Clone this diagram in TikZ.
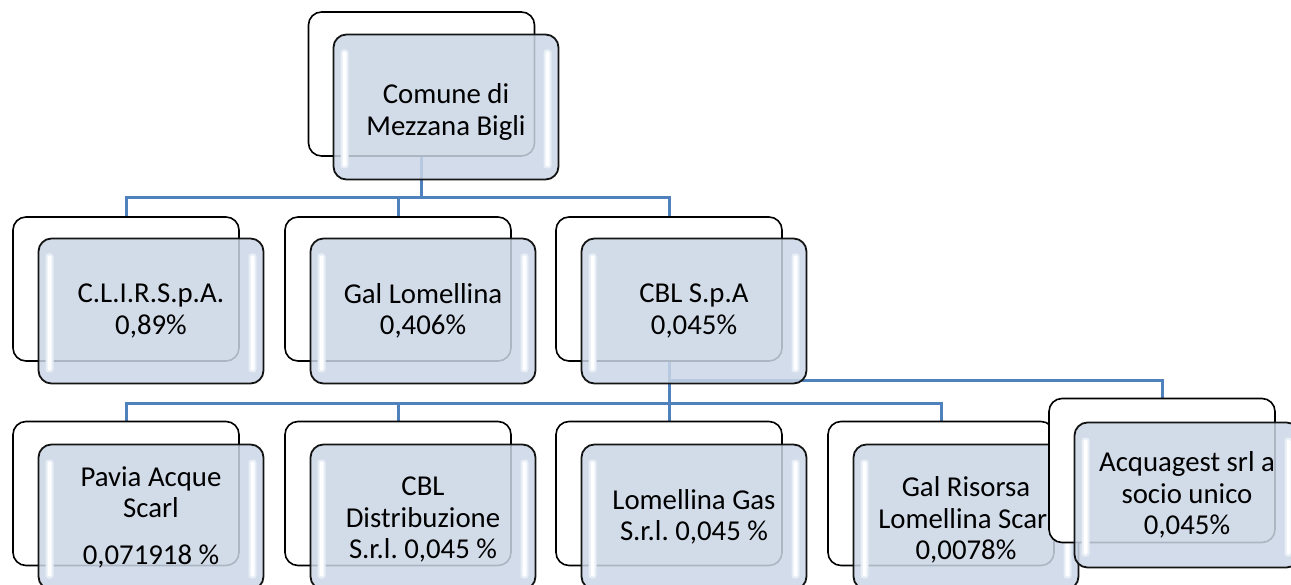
\documentclass[tikz,border=0pt]{standalone}
\usepackage{fontspec}
\setmainfont{Carlito}
\frenchspacing
\usetikzlibrary{backgrounds}
\definecolor{boxfill}{RGB}{203,214,230}
\definecolor{connblue}{RGB}{79,129,189}
\definecolor{halo}{RGB}{232,238,246}
\begin{document}
\begin{tikzpicture}[x=1pt,y=-1pt,
  backbox/.style={draw=black, line width=1.6pt, fill=white, rounded corners=13pt,
    minimum width=226pt, minimum height=144pt, inner sep=0pt},
  frontbox/.style={draw=black!92, line width=1.8pt, fill=boxfill, fill opacity=0.85,
    text opacity=1, rounded corners=13pt, minimum width=225pt, minimum height=145pt,
    inner sep=0pt, align=center, font=\fontsize{28.8}{31.5}\selectfont,
    path picture={
      \begin{scope}[fill opacity=1]
      \fill[halo, rounded corners=3pt]
        ([xshift=7pt,yshift=11pt]path picture bounding box.south west) rectangle
        ([xshift=15pt,yshift=-15pt]path picture bounding box.north west);
      \fill[halo, rounded corners=3pt]
        ([xshift=-15pt,yshift=11pt]path picture bounding box.south east) rectangle
        ([xshift=-7pt,yshift=-15pt]path picture bounding box.north east);
      \fill[white, rounded corners=2pt]
        ([xshift=9pt,yshift=13pt]path picture bounding box.south west) rectangle
        ([xshift=13pt,yshift=-17pt]path picture bounding box.north west);
      \fill[white, rounded corners=2pt]
        ([xshift=-13pt,yshift=13pt]path picture bounding box.south east) rectangle
        ([xshift=-9pt,yshift=-17pt]path picture bounding box.north east);
      \end{scope}
    }},
  conn/.style={draw=connblue, line width=3pt}]
\useasboundingbox (0,0) rectangle (1291,585);
\clip (0,0) rectangle (1291,585);
% top
\node[backbox] (b0) at (421.5,84) {};
\node[frontbox] (f0) at (446,107) {\rule{0pt}{30pt}Comune di\\Mezzana Bigli};
% level 2
\node[backbox] (b1) at (126,289) {};
\node[frontbox] (f1) at (151,311) {C.L.I.R.S.p.A.\\0,89\%};
\node[backbox] (b2) at (398,289) {};
\node[frontbox] (f2) at (423,311) {Gal Lomellina\\0,406\%};
\node[backbox] (b3) at (669,289) {};
\node[frontbox] (f3) at (694,311) {CBL S.p.A\\0,045\%};
% level 3
\node[backbox] (c1) at (126,493.5) {};
\node[frontbox] (g1) at (151,517) {Pavia Acque\\Scarl\\[15pt]0,071918 \%};
\node[backbox] (c2) at (398,493.5) {};
\node[frontbox] (g2) at (423,517) {\rule{0pt}{24pt}CBL\\Distribuzione\\S.r.l. 0,045 \%};
\node[backbox] (c3) at (669,493.5) {};
\node[frontbox] (g3) at (694,517) {Lomellina Gas\\S.r.l. 0,045 \%};
\node[backbox] (c4) at (941,493.5) {};
\node[frontbox] (g4) at (966,517) {\rule{0pt}{26pt}Gal Risorsa\\Lomellina Scarl\\0,0078\%};
\node[backbox] (c5) at (1162,470.5) {};
\node[frontbox] (g5) at (1187,495) {Acquagest srl a\\socio unico\\0,045\%};
% connectors
\coordinate (h1) at (0,198);
\coordinate (h2) at (0,403);
\coordinate (h3) at (0,381);
\begin{scope}[on background layer]
  \draw[conn] (b0.south) -- (b0.south |- h1);
  \draw[conn] (b1.north) |- (h1 -| b3.north) -- (b3.north);
  \draw[conn] (b2.north) -- (b2.north |- h1);
  \draw[conn] (b3.south) -- (b3.south |- h2);
  \draw[conn] (c1.north) |- (h2 -| c4.north) -- (c4.north);
  \draw[conn] (c2.north) -- (c2.north |- h2);
  \draw[conn] (c3.north) -- (c3.north |- h2);
  \draw[conn] (b3.south |- h3) -| (c5.north);
\end{scope}
\end{tikzpicture}
\end{document}
